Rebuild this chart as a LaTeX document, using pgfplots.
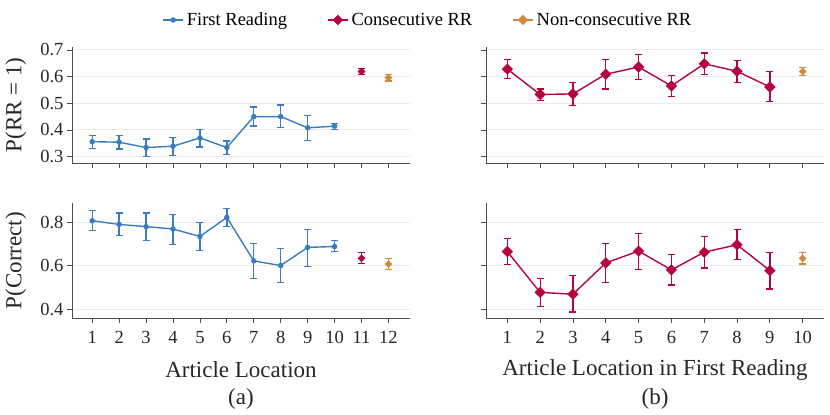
\documentclass[border=0pt]{standalone}
\usepackage{fontspec}
\setmainfont{Liberation Serif}
\usepackage{pgfplots}
\usepackage{pgfplotstable}
\pgfplotsset{compat=1.18}
\definecolor{cblue}{HTML}{3A7DBE}
\definecolor{cred}{HTML}{B5053F}
\definecolor{corange}{HTML}{D4883A}
\definecolor{spine}{HTML}{4D4D4D}
\definecolor{gridc}{HTML}{EBEBEB}

\pgfplotstableread{
x y ep em
1 0.356 0.024 0.025
2 0.354 0.025 0.026
3 0.334 0.032 0.034
4 0.339 0.032 0.035
5 0.370 0.031 0.034
6 0.334 0.025 0.026
7 0.450 0.036 0.035
8 0.450 0.044 0.041
9 0.408 0.046 0.048
10 0.414 0.011 0.012
}\tlblue
\pgfplotstableread{
x y ep em
11 0.619 0.012 0.012
}\tlred
\pgfplotstableread{
x y ep em
12 0.596 0.012 0.012
}\tlorange
\pgfplotstableread{
x y ep em
1 0.806 0.046 0.044
2 0.789 0.052 0.050
3 0.779 0.062 0.065
4 0.768 0.067 0.071
5 0.734 0.063 0.064
6 0.821 0.042 0.041
7 0.622 0.080 0.081
8 0.601 0.079 0.078
9 0.684 0.082 0.086
10 0.688 0.026 0.024
}\blblue
\pgfplotstableread{
x y ep em
11 0.634 0.025 0.024
}\blred
\pgfplotstableread{
x y ep em
12 0.608 0.026 0.026
}\blorange
\pgfplotstableread{
x y ep em
1 0.628 0.036 0.035
2 0.533 0.020 0.022
3 0.535 0.044 0.044
4 0.609 0.056 0.056
5 0.636 0.047 0.047
6 0.565 0.038 0.040
7 0.648 0.041 0.039
8 0.620 0.040 0.041
9 0.561 0.057 0.055
}\trred
\pgfplotstableread{
x y ep em
10 0.619 0.015 0.015
}\trorange
\pgfplotstableread{
x y ep em
1 0.665 0.060 0.060
2 0.478 0.063 0.064
3 0.470 0.085 0.082
4 0.613 0.090 0.089
5 0.667 0.082 0.083
6 0.581 0.070 0.069
7 0.662 0.072 0.072
8 0.696 0.070 0.069
9 0.578 0.084 0.085
}\brred
\pgfplotstableread{
x y ep em
10 0.634 0.027 0.026
}\brorange

\pgfplotsset{
 myax/.style={
  scale only axis, width=338pt,
  axis x line*=bottom, axis y line*=left,
  axis line style={spine, line width=0.9pt, -},
  tick style={spine, line width=0.8pt},
  tick align=outside, major tick length=5pt,
  ymajorgrids, grid style={gridc, line width=0.9pt},
  tick label style={font=\fontsize{18.5}{20}\selectfont, text=black!85},
  /pgf/number format/assume math mode=true,
  yticklabel style={/pgf/number format/fixed, /pgf/number format/fixed zerofill, /pgf/number format/precision=1},
  xticklabel style={yshift=-5pt},
  label style={font=\fontsize{23}{26}\selectfont, text=black!85},
  clip=false,
 },
 toprow/.style={height=116pt, ymin=0.276, ymax=0.711, ytick={0.3,0.4,0.5,0.6,0.7}},
 botrow/.style={height=115pt, ymin=0.361, ymax=0.887, ytick={0.4,0.6,0.8}},
 leftcol/.style={xmin=0.25, xmax=12.8, xtick={1,...,12}},
 rightcol/.style={xmin=0.35, xmax=10.65, xtick={1,...,10}, yticklabels={}},
 ebars/.style={
  /pgfplots/error bars/y dir=both, /pgfplots/error bars/y explicit,
  /pgfplots/error bars/error bar style={line width=1.3pt, solid},
  /pgfplots/error bars/error mark options={mark size=3.5pt, line width=1.3pt, rotate=90},
 },
 sblue/.style={color=cblue, line width=1.4pt, mark=*, mark size=2pt, mark options={solid, fill=cblue}, ebars},
 sredbig/.style={color=cred, line width=1.4pt, mark=square*, mark size=3.3pt, mark options={rotate=45, fill=cred}, ebars},
 sredsmall/.style={color=cred, only marks, mark=square*, mark size=2.5pt, mark options={rotate=45, fill=cred}, ebars},
 sorange/.style={color=corange, only marks, mark=square*, mark size=2.5pt, mark options={rotate=45, fill=corange}, ebars},
}

\begin{document}
\begin{tikzpicture}
\path[use as bounding box] (0pt,0pt) rectangle (830pt,415pt);

% top left
\begin{axis}[myax, toprow, leftcol, at={(72pt,252pt)}, anchor=south west,
  xticklabels={},
  ylabel={P(RR = 1)},
  ylabel style={at={(axis description cs:-0.166,0.5)}, anchor=center},
  legend style={at={(1.053,1.233)}, anchor=center, draw=none, fill=none,
    font=\fontsize{18.5}{20}\selectfont, legend columns=3,
    /tikz/every even column/.append style={column sep=38pt},
    /tikz/every odd column/.append style={column sep=1pt}},
  legend image code/.code={\draw[mark repeat=2, mark phase=2, #1] plot coordinates {(0pt,0pt) (10pt,0pt) (20pt,0pt)};},
]
\addlegendimage{color=cblue, line width=1.4pt, mark=*, mark size=2pt, mark options={fill=cblue}}
\addlegendentry{First Reading}
\addlegendimage{color=cred, line width=1.4pt, mark=square*, mark size=3pt, mark options={rotate=45, fill=cred}}
\addlegendentry{Consecutive RR}
\addlegendimage{color=corange, line width=1.4pt, mark=square*, mark size=3pt, mark options={rotate=45, fill=corange}}
\addlegendentry{Non-consecutive RR}
\addplot[sblue, forget plot] table[x=x, y=y, y error plus=ep, y error minus=em] {\tlblue};
\addplot[sredsmall, forget plot] table[x=x, y=y, y error plus=ep, y error minus=em] {\tlred};
\addplot[sorange, forget plot] table[x=x, y=y, y error plus=ep, y error minus=em] {\tlorange};
\end{axis}

% bottom left
\begin{axis}[myax, botrow, leftcol, at={(72pt,97pt)}, anchor=south west,
  ylabel={P(Correct)},
  ylabel style={at={(axis description cs:-0.166,0.5)}, anchor=center},
  xlabel={Article Location},
  xlabel style={at={(axis description cs:0.5,-0.45)}, anchor=center},
]
\addplot[sblue] table[x=x, y=y, y error plus=ep, y error minus=em] {\blblue};
\addplot[sredsmall] table[x=x, y=y, y error plus=ep, y error minus=em] {\blred};
\addplot[sorange] table[x=x, y=y, y error plus=ep, y error minus=em] {\blorange};
\node[font=\fontsize{23}{26}\selectfont, text=black!85] at (axis description cs:0.5,-0.705) {(a)};
\end{axis}

% top right
\begin{axis}[myax, toprow, rightcol, at={(486pt,252pt)}, anchor=south west,
  xticklabels={},
]
\addplot[sredbig] table[x=x, y=y, y error plus=ep, y error minus=em] {\trred};
\addplot[sorange] table[x=x, y=y, y error plus=ep, y error minus=em] {\trorange};
\end{axis}

% bottom right
\begin{axis}[myax, botrow, rightcol, at={(486pt,97pt)}, anchor=south west,
  xlabel={Article Location in First Reading},
  xlabel style={at={(axis description cs:0.5,-0.45)}, anchor=center},
]
\addplot[sredbig] table[x=x, y=y, y error plus=ep, y error minus=em] {\brred};
\addplot[sorange] table[x=x, y=y, y error plus=ep, y error minus=em] {\brorange};
\node[font=\fontsize{23}{26}\selectfont, text=black!85] at (axis description cs:0.5,-0.705) {(b)};
\end{axis}
\end{tikzpicture}
\end{document}
